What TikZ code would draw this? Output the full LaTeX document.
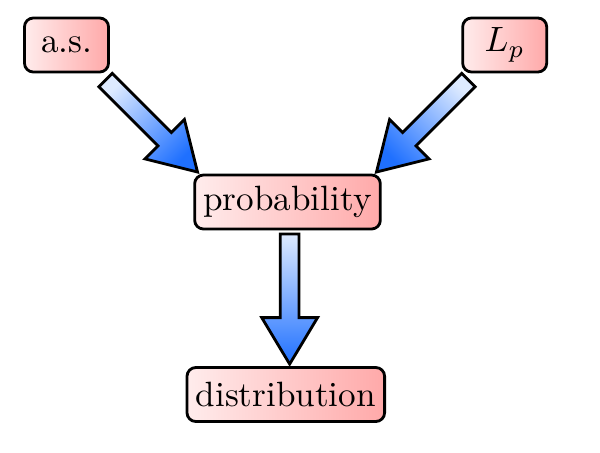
\documentclass[tikz,border=0pt]{standalone}
\usepackage{xcolor}
\usepackage{tikz}
\usepackage{amsmath}
\usetikzlibrary{shapes.arrows, calc}
\definecolor{boxlight}{HTML}{FFECEC}
\definecolor{boxdark}{HTML}{FFA9A9}
\definecolor{flowlight}{HTML}{DDEAFF}
\definecolor{flowdark}{HTML}{1F70FF}

\begin{document}
\begin{tikzpicture}[
    box/.style={rectangle, rounded corners=2.5pt, draw=black, thick, left color=boxlight, right color=boxdark, minimum width=8.4mm, minimum height=5.4mm, inner xsep=2.5pt, inner ysep=1pt},
    flow/.style={single arrow, draw=black, thick, inner xsep=0pt, inner ysep=0.8mm, minimum height=13mm, single arrow head extend=1.85mm, single arrow tip angle=62, top color=flowlight, bottom color=flowdark}
]
\useasboundingbox (0,0) rectangle (6,4.52);

% Nodes
\node[box] (as) at (0.665,4.07) {a.s.};
\node[box] (lp) at (5.047,4.07) {$L_p$};
\node[box] (prob) at (2.875,2.50) {probability};
\node[box] (dist) at (2.858,0.575) {distribution};

% Arrows
\node[flow, rotate=-45, shading angle=45] (a1) at (1.46,3.315) {};
\node[flow, rotate=-135, shading angle=-45] (a2) at (4.28,3.315) {};
\node[flow, rotate=-90] (a3) at ($(prob.south)!0.5!(dist.north)+(0.03,0.07)$) {};

\end{tikzpicture}
\end{document}
